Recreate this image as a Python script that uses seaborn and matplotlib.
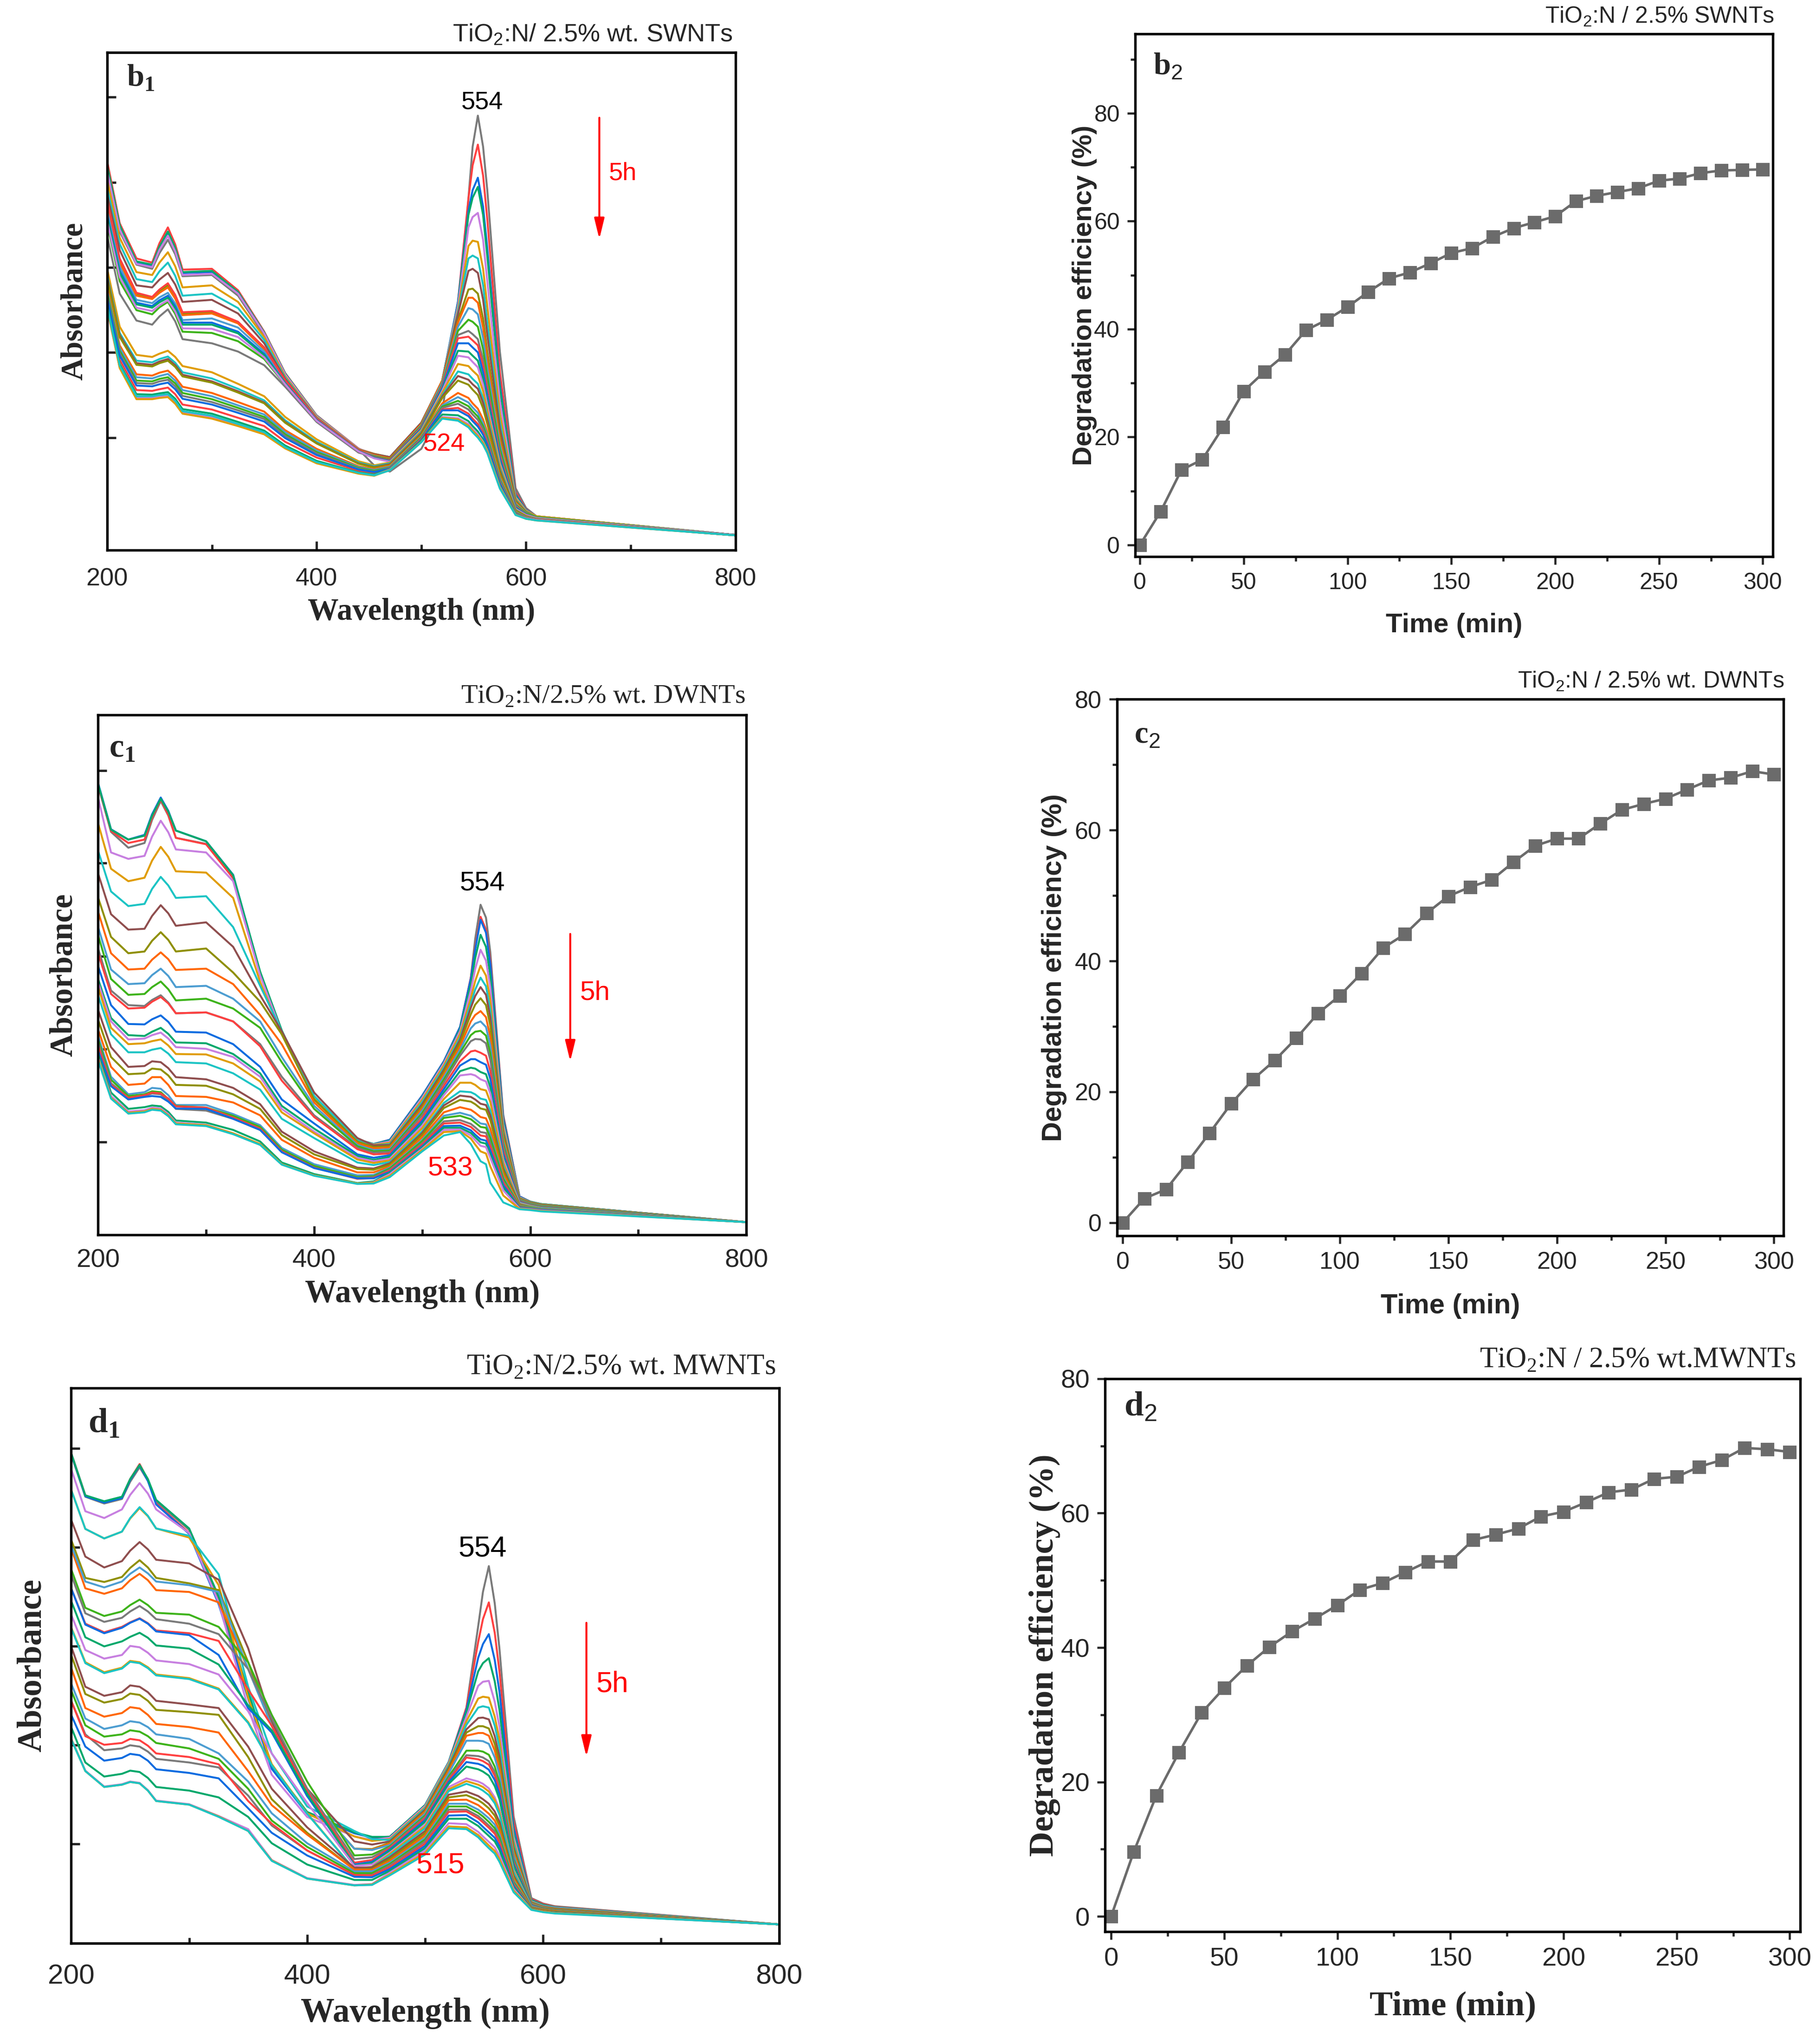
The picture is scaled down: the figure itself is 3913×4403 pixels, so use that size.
import numpy as np
import pandas as pd
import matplotlib
matplotlib.use('Agg')
import matplotlib.pyplot as plt
import seaborn as sns

# %%
# wavelengths (nm) at which the spectra were read off the figure
wl_uv = [200, 212, 228, 243, 258, 272, 300, 325, 350, 370, 400, 440]
wl_bump = [250, 265]
wl_vis = [470, 500, 520, 535, 545, 554, 563, 575, 590, 610, 800]
wl_extra = [455, 549, 559, 600]

# scan colours (Origin style cycle)
scan_colors = ['#7A7A7A', '#FF4040', '#0A6BE0', '#00A86B', '#C77FE0', '#E09C00',
               '#1CC4C4', '#8F4E4E', '#8F8F00', '#FF6600', '#4C9DD1', '#3DB31A']

# b1 : TiO2:N / 2.5% wt. SWNTs  (absorbance, arbitrary units x1000)
b1_uv = [
    [900, 770, 690, 680, 750, 662, 665, 615, 520, 422, 323, 244],
    [940, 790, 705, 695, 780, 678, 680, 628, 528, 428, 326, 246],
    [925, 780, 695, 688, 765, 670, 672, 622, 525, 426, 325, 245],
    [930, 785, 698, 690, 770, 672, 675, 624, 526, 427, 325, 245],
    [915, 775, 692, 684, 760, 665, 668, 620, 524, 425, 324, 245],
    [895, 755, 672, 665, 720, 635, 640, 600, 515, 420, 322, 244],
    [875, 740, 655, 648, 695, 615, 620, 585, 508, 417, 320, 243],
    [860, 725, 640, 635, 670, 600, 605, 572, 500, 414, 319, 243],
    [835, 700, 618, 610, 640, 572, 575, 550, 488, 410, 317, 242],
    [830, 695, 615, 607, 635, 568, 572, 548, 486, 409, 317, 242],
    [820, 685, 605, 597, 622, 556, 560, 538, 480, 406, 316, 241],
    [790, 650, 580, 570, 600, 528, 525, 505, 462, 400, 313, 238],
    [760, 620, 555, 545, 582, 510, 500, 480, 447, 395, 310, 236],
    [845, 705, 622, 612, 645, 575, 578, 552, 490, 411, 318, 242],
    [810, 675, 598, 590, 615, 550, 550, 528, 474, 404, 315, 240],
    [805, 670, 594, 586, 610, 545, 545, 524, 471, 403, 314, 240],
    [795, 660, 586, 578, 604, 536, 535, 515, 466, 401, 313, 239],
    [680, 540, 472, 467, 482, 445, 430, 402, 372, 322, 268, 215],
    [665, 525, 458, 454, 468, 430, 415, 390, 362, 314, 262, 212],
    [660, 520, 452, 448, 462, 424, 408, 384, 357, 310, 259, 210],
    [655, 515, 448, 444, 458, 420, 405, 381, 355, 308, 258, 209],
    [635, 495, 425, 422, 434, 395, 380, 358, 335, 290, 245, 203],
    [628, 488, 418, 415, 426, 387, 372, 350, 328, 285, 241, 201],
    [622, 482, 410, 408, 418, 380, 365, 344, 322, 280, 237, 199],
    [615, 476, 404, 402, 412, 373, 358, 338, 317, 276, 234, 197],
    [600, 460, 387, 385, 393, 352, 340, 320, 300, 262, 224, 192],
    [610, 470, 398, 396, 405, 366, 352, 332, 311, 271, 230, 195],
    [592, 450, 377, 376, 382, 341, 330, 310, 289, 253, 216, 188],
    [582, 442, 368, 368, 373, 333, 322, 303, 283, 248, 212, 186],
    [585, 440, 365, 365, 370, 330, 318, 300, 280, 246, 210, 185],
    [590, 446, 372, 372, 377, 336, 325, 305, 285, 249, 213, 187],
]
b1_bump = [
    [718, 715], [742, 739], [730, 727], [734, 731], [726, 722], [695, 686], [674, 663],
    [654, 642], [627, 613], [622, 608], [611, 596], [587, 571], [565, 553], [630, 617],
    [604, 589], [599, 584], [592, 577], [475, 467], [462, 453], [456, 447], [452, 443],
    [429, 418], [421, 410], [414, 403], [408, 396], [389, 377], [401, 389], [379, 366],
    [371, 357], [368, 354], [375, 361],
]
b1_vis = [
    [190, 245, 340, 560, 850, 1050, 870, 480, 150, 82, 37],
    [215, 300, 400, 600, 850, 980, 800, 430, 140, 82, 37],
    [220, 305, 410, 600, 820, 900, 730, 400, 135, 82, 37],
    [222, 305, 410, 595, 810, 878, 710, 390, 132, 82, 37],
    [225, 308, 410, 590, 780, 815, 650, 360, 128, 82, 37],
    [225, 308, 410, 580, 735, 745, 590, 330, 125, 82, 37],
    [225, 308, 410, 575, 705, 705, 550, 310, 122, 80, 37],
    [225, 308, 410, 570, 675, 670, 520, 295, 120, 80, 37],
    [222, 305, 410, 555, 630, 620, 480, 275, 118, 80, 37],
    [222, 305, 410, 550, 610, 598, 460, 265, 115, 80, 37],
    [220, 302, 405, 540, 585, 570, 440, 255, 112, 80, 37],
    [220, 300, 400, 530, 557, 540, 420, 245, 110, 80, 37],
    [218, 298, 398, 520, 530, 510, 400, 235, 108, 78, 37],
    [218, 296, 395, 512, 516, 495, 388, 228, 106, 78, 37],
    [216, 294, 392, 500, 500, 478, 375, 222, 104, 78, 37],
    [215, 292, 388, 482, 480, 458, 362, 215, 102, 78, 37],
    [214, 290, 385, 470, 466, 442, 350, 210, 100, 78, 37],
    [212, 288, 380, 450, 445, 422, 338, 204, 98, 76, 36],
    [210, 285, 375, 432, 425, 402, 325, 198, 97, 76, 36],
    [208, 283, 372, 421, 412, 390, 316, 193, 96, 76, 36],
    [206, 280, 368, 410, 400, 375, 305, 188, 95, 76, 36],
    [204, 276, 355, 380, 368, 342, 285, 178, 93, 75, 36],
    [202, 274, 350, 370, 357, 332, 278, 174, 92, 75, 36],
    [200, 272, 347, 361, 348, 323, 272, 170, 91, 74, 36],
    [199, 270, 344, 354, 340, 315, 266, 167, 90, 74, 36],
    [198, 268, 340, 344, 330, 305, 259, 163, 89, 74, 36],
    [197, 266, 338, 338, 324, 299, 255, 161, 88, 73, 36],
    [196, 264, 328, 326, 312, 287, 246, 156, 87, 73, 36],
    [195, 262, 322, 319, 305, 280, 241, 153, 86, 73, 36],
    [194, 262, 320, 316, 301, 276, 238, 151, 86, 72, 36],
    [193, 261, 318, 313, 297, 272, 235, 149, 85, 72, 36],
]
b1_extra = [
    [205, 975, 975, 102], [228, 930, 905, 99], [230, 870, 830, 98], [232, 852, 810, 97],
    [233, 805, 750, 96], [233, 748, 680, 95], [232, 712, 640, 93], [232, 680, 605, 92],
    [230, 632, 560, 91], [230, 610, 538, 90], [228, 582, 512, 90], [227, 552, 485, 89],
    [225, 522, 460, 87], [225, 507, 446, 86], [224, 490, 430, 86], [223, 470, 413, 85],
    [222, 455, 400, 85], [205, 434, 384, 83], [203, 414, 367, 82], [201, 401, 356, 82],
    [200, 388, 343, 82], [196, 355, 316, 80], [194, 345, 307, 80], [192, 336, 300, 79],
    [190, 328, 293, 79], [187, 318, 284, 78], [189, 312, 279, 77], [183, 300, 268, 77],
    [181, 293, 262, 77], [180, 289, 259, 76], [181, 285, 255, 76],
]

# c1 : TiO2:N / 2.5% wt. DWNTs
c1_uv = [
    [1048, 940, 903, 914, 1012, 926, 912, 835, 610, 475, 316, 222],
    [1050, 942, 914, 922, 1015, 926, 911, 832, 608, 475, 316, 222],
    [1054, 946, 922, 933, 1020, 943, 918, 840, 612, 476, 317, 222],
    [1052, 945, 922, 931, 1017, 943, 918, 839, 614, 477, 318, 223],
    [1020, 892, 877, 884, 966, 899, 892, 825, 605, 472, 318, 222],
    [960, 854, 825, 833, 905, 848, 845, 786, 590, 468, 320, 222],
    [896, 801, 767, 772, 835, 786, 790, 718, 581, 475, 324, 222],
    [843, 748, 712, 714, 769, 721, 729, 672, 559, 475, 332, 226],
    [787, 695, 657, 661, 706, 661, 668, 612, 544, 468, 316, 218],
    [754, 657, 619, 621, 659, 618, 621, 585, 513, 445, 309, 214],
    [718, 619, 585, 587, 621, 578, 581, 551, 498, 415, 301, 210],
    [699, 597, 560, 562, 591, 547, 551, 528, 483, 403, 294, 207],
    [668, 570, 536, 534, 559, 517, 519, 498, 445, 369, 279, 203],
    [657, 562, 528, 530, 555, 517, 519, 498, 440, 360, 275, 200],
    [627, 536, 492, 491, 512, 474, 472, 445, 392, 316, 260, 188],
    [597, 506, 466, 464, 483, 449, 447, 422, 377, 301, 248, 184],
    [589, 498, 456, 458, 472, 438, 434, 415, 369, 294, 241, 180],
    [578, 483, 445, 447, 456, 422, 421, 400, 358, 286, 237, 176],
    [559, 468, 426, 426, 436, 403, 400, 377, 339, 271, 226, 169],
    [525, 438, 392, 394, 403, 368, 363, 343, 305, 241, 195, 157],
    [502, 415, 375, 377, 386, 350, 348, 328, 294, 233, 188, 154],
    [479, 392, 350, 353, 368, 324, 322, 309, 279, 222, 180, 146],
    [464, 369, 328, 333, 341, 303, 303, 282, 256, 203, 165, 139],
    [456, 362, 324, 328, 333, 301, 297, 278, 252, 199, 161, 135],
    [449, 354, 320, 324, 328, 294, 290, 271, 245, 195, 157, 133],
    [441, 350, 320, 326, 330, 300, 297, 274, 248, 195, 157, 131],
    [430, 347, 316, 322, 322, 295, 294, 271, 245, 193, 156, 132],
    [422, 332, 294, 298, 300, 267, 262, 245, 218, 169, 142, 121],
    [414, 324, 288, 291, 295, 262, 257, 237, 212, 165, 139, 120],
    [411, 320, 285, 288, 292, 260, 256, 237, 212, 165, 139, 120],
    [407, 318, 283, 286, 290, 258, 254, 235, 210, 164, 138, 119],
]
c1_bump = [
    [968, 978], [973, 979], [981, 989], [978, 987], [929, 939], [873, 882], [807, 815],
    [744, 750], [686, 688], [642, 643], [606, 604], [578, 573], [548, 542], [544, 540],
    [503, 497], [474, 469], [466, 458], [452, 442], [432, 423], [405, 389], [388, 372],
    [368, 350], [343, 326], [335, 317], [330, 314], [332, 318], [324, 311], [302, 287],
    [297, 282], [294, 279], [292, 277],
]
c1_vis = [
    [220, 320, 400, 480, 600, 770, 660, 280, 90, 72, 30],
    [222, 325, 405, 485, 600, 742, 640, 275, 90, 72, 30],
    [222, 325, 405, 485, 598, 735, 632, 272, 90, 72, 30],
    [220, 322, 402, 480, 585, 700, 605, 265, 88, 72, 30],
    [218, 320, 400, 475, 570, 665, 578, 258, 88, 71, 30],
    [215, 315, 395, 468, 552, 628, 548, 250, 87, 71, 30],
    [212, 310, 390, 460, 540, 600, 525, 243, 86, 70, 30],
    [210, 305, 385, 455, 530, 578, 508, 238, 85, 70, 30],
    [207, 300, 380, 448, 515, 552, 488, 232, 84, 69, 30],
    [204, 295, 374, 440, 498, 522, 462, 224, 83, 68, 30],
    [200, 290, 368, 432, 482, 498, 442, 218, 82, 68, 30],
    [197, 284, 362, 425, 466, 476, 424, 212, 81, 67, 30],
    [194, 279, 356, 418, 452, 456, 408, 206, 80, 66, 30],
    [190, 272, 348, 405, 428, 425, 382, 196, 78, 65, 30],
    [186, 266, 340, 395, 410, 403, 364, 189, 77, 64, 30],
    [182, 260, 332, 382, 390, 380, 345, 182, 76, 64, 30],
    [178, 255, 326, 372, 375, 363, 330, 176, 75, 63, 30],
    [174, 249, 317, 355, 355, 340, 310, 168, 73, 62, 30],
    [170, 242, 308, 335, 333, 318, 290, 160, 72, 62, 30],
    [167, 238, 302, 325, 322, 306, 279, 155, 71, 61, 30],
    [164, 234, 296, 315, 311, 295, 268, 150, 70, 61, 30],
    [160, 228, 286, 298, 292, 275, 248, 142, 69, 60, 30],
    [157, 222, 278, 285, 278, 260, 234, 135, 68, 60, 30],
    [155, 219, 273, 278, 270, 252, 226, 131, 67, 59, 30],
    [152, 214, 265, 268, 259, 240, 214, 125, 66, 59, 30],
    [150, 211, 260, 262, 252, 232, 206, 121, 65, 58, 30],
    [147, 207, 254, 255, 244, 223, 197, 116, 64, 58, 30],
    [145, 204, 250, 250, 238, 216, 188, 110, 63, 57, 30],
    [142, 201, 245, 246, 232, 208, 180, 104, 62, 57, 30],
    [138, 198, 240, 242, 225, 195, 160, 92, 61, 56, 30],
    [135, 195, 232, 240, 212, 172, 122, 76, 60, 55, 30],
]
c1_extra = [
    [210, 690, 740, 78], [212, 670, 712, 77], [212, 665, 705, 77], [212, 645, 672, 77],
    [211, 620, 640, 76], [210, 592, 605, 76], [209, 572, 580, 75], [209, 557, 560, 75],
    [205, 537, 536, 74], [202, 513, 508, 73], [198, 493, 485, 73], [195, 474, 465, 72],
    [192, 457, 447, 71], [188, 430, 418, 70], [180, 410, 397, 69], [175, 388, 375, 69],
    [172, 372, 358, 68], [168, 350, 337, 67], [163, 328, 315, 66], [155, 316, 303, 65],
    [152, 305, 292, 65], [146, 285, 272, 64], [140, 270, 258, 64], [137, 262, 250, 63],
    [135, 251, 238, 62], [133, 243, 230, 61], [132, 234, 220, 61], [125, 228, 213, 60],
    [123, 221, 205, 60], [122, 211, 190, 59], [120, 194, 165, 58],
]

# d1 : TiO2:N / 2.5% wt. MWNTs
d1_uv = [
    [1078, 985, 970, 980, 1050, 975, 912, 760, 550, 390, 288, 243],
    [1081, 988, 973, 983, 1057, 970, 905, 750, 545, 388, 287, 244],
    [1080, 986, 972, 982, 1054, 968, 903, 748, 540, 385, 286, 243],
    [1081, 988, 975, 985, 1055, 978, 915, 765, 555, 392, 290, 245],
    [1046, 953, 938, 957, 1015, 957, 905, 752, 519, 372, 279, 236],
    [1000, 914, 893, 908, 960, 915, 895, 790, 542, 395, 287, 236],
    [1000, 914, 893, 908, 962, 915, 899, 814, 566, 419, 302, 248],
    [934, 853, 829, 843, 885, 846, 838, 802, 651, 488, 341, 225],
    [890, 806, 797, 808, 845, 806, 794, 779, 620, 480, 325, 209],
    [871, 783, 771, 783, 815, 779, 775, 752, 605, 480, 325, 209],
    [877, 798, 785, 798, 829, 798, 790, 775, 605, 480, 325, 209],
    [825, 740, 722, 732, 758, 729, 725, 698, 620, 504, 357, 194],
    [813, 728, 709, 718, 744, 715, 705, 682, 605, 496, 341, 186],
    [783, 705, 686, 698, 717, 690, 684, 667, 560, 480, 335, 178],
    [783, 703, 684, 696, 716, 688, 680, 636, 519, 465, 325, 174],
    [755, 675, 655, 666, 685, 657, 650, 615, 525, 470, 330, 172],
    [725, 647, 628, 636, 653, 624, 616, 593, 512, 419, 310, 171],
    [697, 620, 598, 608, 620, 593, 585, 562, 488, 395, 287, 163],
    [695, 618, 596, 606, 618, 591, 583, 560, 486, 393, 286, 163],
    [655, 566, 546, 554, 566, 535, 527, 519, 434, 341, 256, 167],
    [636, 550, 531, 539, 548, 515, 510, 504, 411, 318, 244, 163],
    [608, 519, 500, 508, 518, 484, 477, 465, 380, 305, 240, 163],
    [573, 496, 473, 481, 487, 461, 451, 419, 357, 287, 221, 159],
    [558, 481, 456, 461, 467, 442, 430, 407, 341, 271, 213, 155],
    [535, 461, 426, 430, 434, 407, 399, 388, 326, 260, 205, 151],
    [535, 457, 438, 442, 448, 419, 411, 395, 314, 264, 205, 151],
    [504, 434, 403, 409, 415, 384, 376, 364, 298, 244, 194, 147],
    [477, 399, 368, 374, 378, 345, 337, 322, 279, 221, 174, 140],
    [452, 381, 346, 351, 354, 315, 307, 281, 252, 184, 144, 129],
    [451, 380, 345, 350, 353, 314, 306, 280, 248, 183, 143, 128],
    [450, 380, 345, 350, 353, 314, 306, 279, 248, 182, 143, 128],
]
d1_bump = [
    [1018, 1020], [1024, 1022], [1022, 1020], [1024, 1024], [989, 992], [937, 942], [938, 943],
    [866, 869], [828, 829], [801, 801], [815, 816], [746, 746], [732, 732], [708, 706],
    [707, 705], [676, 674], [656, 641], [623, 609], [621, 607], [569, 554], [551, 535],
    [521, 504], [490, 477], [470, 457], [437, 423], [451, 436], [418, 403], [381, 365],
    [357, 338], [356, 337], [356, 337],
]
d1_vis = [
    [235, 300, 395, 520, 700, 832, 650, 280, 100, 82, 42],
    [235, 305, 400, 520, 665, 752, 600, 268, 98, 81, 42],
    [235, 305, 400, 515, 630, 682, 555, 255, 96, 80, 42],
    [235, 305, 400, 510, 600, 629, 515, 245, 95, 80, 42],
    [233, 303, 398, 500, 568, 579, 478, 235, 93, 79, 42],
    [230, 300, 395, 490, 540, 542, 450, 226, 92, 78, 42],
    [228, 298, 392, 482, 520, 520, 432, 220, 91, 78, 42],
    [225, 295, 388, 472, 497, 494, 412, 212, 90, 77, 42],
    [222, 292, 384, 465, 479, 474, 398, 206, 89, 76, 42],
    [220, 290, 380, 458, 464, 458, 385, 200, 88, 76, 42],
    [217, 286, 375, 447, 447, 440, 372, 194, 87, 75, 42],
    [214, 282, 368, 425, 425, 416, 355, 186, 86, 75, 42],
    [212, 279, 364, 415, 413, 402, 345, 182, 85, 74, 42],
    [210, 276, 360, 410, 406, 394, 338, 179, 85, 74, 42],
    [207, 272, 356, 400, 396, 383, 329, 175, 84, 73, 42],
    [204, 268, 352, 390, 384, 370, 318, 171, 83, 73, 42],
    [200, 262, 345, 364, 357, 342, 296, 162, 82, 72, 42],
    [197, 258, 340, 358, 350, 335, 290, 159, 81, 72, 42],
    [194, 254, 336, 352, 343, 327, 284, 156, 81, 71, 42],
    [190, 248, 328, 335, 325, 308, 268, 150, 80, 71, 42],
    [186, 243, 322, 327, 316, 298, 260, 146, 79, 70, 42],
    [182, 238, 316, 317, 305, 286, 250, 142, 79, 70, 42],
    [178, 233, 308, 308, 295, 276, 241, 138, 78, 69, 42],
    [175, 229, 302, 302, 288, 268, 234, 135, 78, 69, 42],
    [172, 225, 295, 295, 281, 260, 227, 132, 77, 68, 42],
    [168, 220, 290, 291, 276, 255, 222, 130, 77, 68, 42],
    [164, 215, 282, 283, 267, 245, 214, 127, 76, 68, 42],
    [160, 210, 275, 275, 259, 237, 206, 124, 76, 67, 42],
    [156, 205, 265, 263, 246, 224, 194, 120, 75, 67, 42],
    [152, 200, 258, 256, 239, 216, 186, 116, 75, 67, 42],
    [150, 196, 254, 252, 234, 210, 180, 113, 74, 66, 42],
]
d1_extra = [
    [233, 775, 750, 88], [234, 715, 685, 87], [234, 660, 625, 85], [235, 618, 578, 85],
    [228, 577, 533, 83], [226, 544, 500, 82], [230, 523, 480, 82], [218, 498, 457, 81],
    [208, 479, 440, 80], [207, 464, 425, 80], [206, 446, 410, 79], [196, 423, 390, 78],
    [190, 410, 378, 77], [184, 402, 370, 77], [180, 392, 360, 76], [177, 379, 347, 76],
    [174, 352, 322, 75], [169, 345, 316, 75], [168, 337, 309, 74], [168, 318, 291, 74],
    [164, 309, 282, 73], [162, 297, 271, 73], [159, 287, 262, 72], [155, 280, 254, 72],
    [151, 272, 247, 71], [150, 267, 242, 71], [146, 257, 233, 70], [140, 249, 225, 70],
    [131, 236, 212, 70], [130, 229, 204, 70], [129, 223, 198, 69],
]

# degradation efficiency (%) vs irradiation time (min)
time_min = [0, 10, 20, 30, 40, 50, 60, 70, 80, 90, 100, 110, 120, 130, 140, 150,
            160, 170, 180, 190, 200, 210, 220, 230, 240, 250, 260, 270, 280, 290, 300]
b2_eff = [0, 6.2, 13.9, 15.8, 21.8, 28.5, 32.1, 35.3, 39.8, 41.7, 44.1, 46.9, 49.4,
          50.5, 52.2, 54.1, 55.0, 57.1, 58.7, 59.8, 60.9, 63.7, 64.7, 65.4, 66.1,
          67.5, 67.9, 68.9, 69.4, 69.5, 69.6]
c2_eff = [0, 3.7, 5.1, 9.3, 13.7, 18.2, 21.9, 24.8, 28.2, 32.0, 34.7, 38.1, 42.0,
          44.1, 47.3, 49.9, 51.3, 52.4, 55.1, 57.6, 58.7, 58.7, 61.0, 63.1, 64.0,
          64.8, 66.2, 67.6, 68.0, 69.0, 68.5]
d2_eff = [0, 9.6, 18.0, 24.4, 30.3, 34.0, 37.3, 40.1, 42.4, 44.3, 46.3, 48.6, 49.6,
          51.2, 52.8, 52.8, 56.0, 56.8, 57.7, 59.5, 60.2, 61.6, 63.1, 63.5, 65.1,
          65.4, 66.9, 67.9, 69.7, 69.5, 69.1]

# %%
sns.set_style('white')
plt.rcParams['mathtext.fontset'] = 'custom'
plt.rcParams['mathtext.rm'] = 'Liberation Serif'
plt.rcParams['mathtext.bf'] = 'Liberation Serif:bold'
plt.rcParams['mathtext.sf'] = 'Liberation Sans'
plt.rcParams['font.family'] = ['Liberation Sans', 'DejaVu Sans']

SERIF = ['Liberation Serif', 'DejaVu Serif']
SANS = ['Liberation Sans', 'DejaVu Sans']


def spectra_frame(uv_rows, bump_rows, vis_rows, extra_rows):
    wl = wl_uv + wl_bump + wl_vis + wl_extra
    recs = []
    for k, (u, b, v, e) in enumerate(zip(uv_rows, bump_rows, vis_rows, extra_rows)):
        for w, a in zip(wl, u + b + v + e):
            recs.append((w, a, 'scan %02d' % k))
    df = pd.DataFrame(recs, columns=['wavelength', 'absorbance', 'scan'])
    return df.sort_values(['scan', 'wavelength']).reset_index(drop=True)


def draw_spectra(ax, rows, ymax, yticks, tick_fs, label_fs, tick_pad, xlab_pad, ylab_pad):
    df = spectra_frame(*rows)
    order = sorted(df['scan'].unique())
    pal = [scan_colors[i % len(scan_colors)] for i in range(len(order))]
    sns.lineplot(data=df, x='wavelength', y='absorbance', hue='scan', hue_order=order,
                 palette=pal, legend=False, sort=True, estimator=None, lw=1.0, ax=ax)
    ax.set_xlim(200, 800)
    ax.set_ylim(0, ymax)
    ax.set_xticks([200, 400, 600, 800])
    ax.set_xticks([300, 500, 700], minor=True)
    ax.set_yticks(yticks)
    ax.set_yticklabels([])
    ax.tick_params(which='both', direction='in', top=False, right=False,
                   left=True, bottom=True, width=1.2)
    ax.tick_params(which='major', length=4.5, labelsize=tick_fs, pad=tick_pad)
    ax.tick_params(which='minor', length=3)
    for t in ax.get_xticklabels():
        t.set_fontfamily(SANS)
    ax.set_xlabel('Wavelength (nm)', family=SERIF, weight='bold', fontsize=label_fs, labelpad=xlab_pad)
    ax.set_ylabel('Absorbance', family=SERIF, weight='bold', fontsize=label_fs, labelpad=ylab_pad)
    for s in ax.spines.values():
        s.set_linewidth(1.3)
        s.set_color('black')


def draw_degradation(ax, eff, ylim, xlim, tick_fs, label_family, label_fs, ylab_pad):
    sns.lineplot(x=time_min, y=eff, ax=ax, color='#6B6B6B', lw=1.3, marker='s',
                 markersize=6.2, markeredgecolor='#6B6B6B', markerfacecolor='#6B6B6B')
    ax.set_xlim(*xlim)
    ax.set_ylim(*ylim)
    ax.set_xticks([0, 50, 100, 150, 200, 250, 300])
    ax.set_xticks([25, 75, 125, 175, 225, 275], minor=True)
    ax.set_yticks([0, 20, 40, 60, 80])
    ax.set_yticks([v for v in [10, 30, 50, 70, 90] if v < ylim[1]], minor=True)
    ax.tick_params(which='both', direction='out', top=False, right=False,
                   left=True, bottom=True, width=1.1)
    ax.tick_params(which='major', length=4, labelsize=tick_fs, pad=4)
    ax.tick_params(which='minor', length=2.5)
    for t in ax.get_xticklabels() + ax.get_yticklabels():
        t.set_fontfamily(SANS)
    ax.set_xlabel('Time (min)', family=label_family, weight='bold', fontsize=label_fs, labelpad=10)
    ax.set_ylabel('Degradation efficiency (%)', family=label_family, weight='bold',
                  fontsize=label_fs, labelpad=ylab_pad)
    for s in ax.spines.values():
        s.set_linewidth(1.3)
        s.set_color('black')


# %%
fig = plt.figure(figsize=(3913 / 300, 4403 / 300), dpi=300)
fig.patch.set_facecolor('white')

ax_b1 = fig.add_axes([0.059, 0.7308, 0.346, 0.2436])
ax_b2 = fig.add_axes([0.6252, 0.7276, 0.3511, 0.2558])
ax_c1 = fig.add_axes([0.054, 0.3958, 0.357, 0.2545])
ax_c2 = fig.add_axes([0.6151, 0.3954, 0.3669, 0.2625])
ax_d1 = fig.add_axes([0.0392, 0.0492, 0.3898, 0.2718])
ax_d2 = fig.add_axes([0.6086, 0.0550, 0.3828, 0.2705])

# spectra
draw_spectra(ax_b1, (b1_uv, b1_bump, b1_vis, b1_extra), 1203, [272, 478, 683, 889, 1095],
             13, 16, 9, 3.4, 0.5)
draw_spectra(ax_c1, (c1_uv, c1_bump, c1_vis, c1_extra), 1213, [217, 433, 650, 867, 1083],
             13.5, 16.5, 7, 3.4, 3)
draw_spectra(ax_d1, (d1_uv, d1_bump, d1_vis, d1_extra), 1225, [219, 437, 656, 874, 1092],
             14.5, 17.5, 10.5, 4.4, 1.5)

# degradation curves
draw_degradation(ax_b2, b2_eff, (-2.2, 94.7), (-2.2, 304.9), 12, SANS, 14, -1.5)
draw_degradation(ax_c2, c2_eff, (-2.0, 80), (-2.6, 304.3), 12.5, SANS, 14.3, 4)
draw_degradation(ax_d2, d2_eff, (-2.25, 80), (-2.6, 304.7), 13.5, SERIF, 18, 0)

# titles above each panel
ax_b1.text(0.995, 1.012, r'TiO$_\mathsf{2}$:N/ 2.5% wt. SWNTs', transform=ax_b1.transAxes,
           ha='right', va='bottom', fontsize=13, family=SANS)
ax_b2.text(1.002, 1.012, r'TiO$_\mathsf{2}$:N / 2.5% SWNTs', transform=ax_b2.transAxes,
           ha='right', va='bottom', fontsize=12, family=SANS)
ax_c1.text(0.998, 1.012, r'TiO$_2$:N/2.5% wt. DWNTs', transform=ax_c1.transAxes,
           ha='right', va='bottom', fontsize=14, family=SERIF)
ax_c2.text(1.001, 1.012, r'TiO$_\mathsf{2}$:N / 2.5% wt. DWNTs', transform=ax_c2.transAxes,
           ha='right', va='bottom', fontsize=12, family=SANS)
ax_d1.text(0.995, 1.012, r'TiO$_2$:N/2.5% wt. MWNTs', transform=ax_d1.transAxes,
           ha='right', va='bottom', fontsize=15, family=SERIF)
ax_d2.text(0.994, 1.008, r'TiO$_2$:N / 2.5% wt.MWNTs', transform=ax_d2.transAxes,
           ha='right', va='bottom', fontsize=15, family=SERIF)

# panel letters
ax_b1.text(0.031, 0.977, r'$\mathbf{b}_{\mathbf{1}}$', transform=ax_b1.transAxes, ha='left', va='top', fontsize=16)
ax_b2.text(0.028, 0.965, r'$\mathbf{b}_{\mathsf{2}}$', transform=ax_b2.transAxes, ha='left', va='top', fontsize=16)
ax_c1.text(0.017, 0.965, r'$\mathbf{c}_{\mathbf{1}}$', transform=ax_c1.transAxes, ha='left', va='top', fontsize=17)
ax_c2.text(0.026, 0.960, r'$\mathbf{c}_{\mathsf{2}}$', transform=ax_c2.transAxes, ha='left', va='top', fontsize=16)
ax_d1.text(0.024, 0.965, r'$\mathbf{d}_{\mathbf{1}}$', transform=ax_d1.transAxes, ha='left', va='top', fontsize=18)
ax_d2.text(0.027, 0.978, r'$\mathbf{d}_{\mathsf{2}}$', transform=ax_d2.transAxes, ha='left', va='top', fontsize=18)

# peak labels and time arrow
arrow = dict(arrowstyle='-|>,head_length=0.9,head_width=0.22', color='red', lw=1.0, shrinkA=0, shrinkB=0)
for ax, top_xy, low_xy, low_txt, ax_x, a0, a1, h_xy, fs in [
        (ax_b1, (558, 1082), (521.6, 255), '524', 670, 1045, 752, (679, 910), 13),
        (ax_c1, (555.5, 820), (526, 155), '533', 637, 702, 405, (646, 565), 14),
        (ax_d1, (548.5, 870), (513, 172), '515', 636.7, 707, 412, (645, 572), 15)]:
    ax.text(*top_xy, '554', ha='center', va='center', fontsize=fs, color='black', family=SANS)
    ax.text(*low_xy, low_txt, ha='center', va='center', fontsize=fs, color='red', family=SANS)
    ax.annotate('', xy=(ax_x, a1), xytext=(ax_x, a0), arrowprops=arrow)
    ax.text(*h_xy, '5h', ha='left', va='center', fontsize=fs, color='red', family=SANS)

fig.savefig('out.png', dpi=300, facecolor='white')
